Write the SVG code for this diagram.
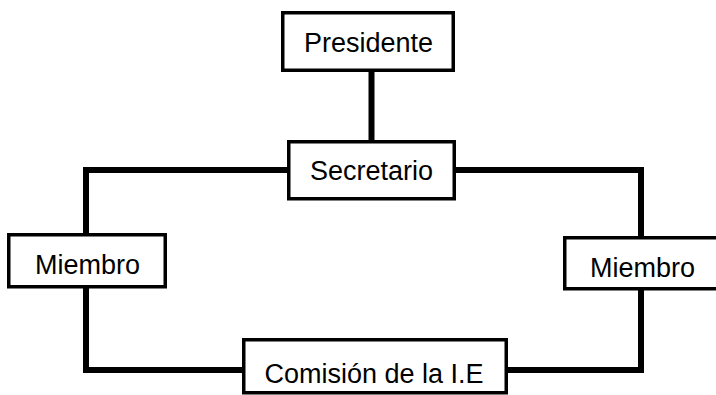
<svg xmlns="http://www.w3.org/2000/svg" width="716" height="395" viewBox="0 0 716 395">
<style>
.box{fill:#fff;stroke:#000;stroke-width:3.5}
.lbl{font-family:"Liberation Sans",Arial,sans-serif;font-size:27px;fill:#000;text-anchor:middle}
.con{fill:none;stroke:#000;stroke-width:6;stroke-linejoin:miter}
</style>
<rect width="716" height="395" fill="#fff"/>
<g id="connectors">
<line class="con" x1="371.5" y1="72" x2="371.5" y2="141"/>
<polyline class="con" points="288,170 86,170 86,234"/>
<polyline class="con" points="86,288 86,370 242,370"/>
<polyline class="con" points="456,170 641,170 641,237"/>
<polyline class="con" points="641,290 641,370 508,370"/>
</g>
<g id="presidente">
<rect class="box" x="282.75" y="12.75" width="170.5" height="57.5"/>
<text class="lbl" x="368.5" y="52">Presidente</text>
</g>
<g id="secretario">
<rect class="box" x="288.75" y="141.75" width="165.5" height="57"/>
<text class="lbl" x="371.5" y="180">Secretario</text>
</g>
<g id="miembro-izq">
<rect class="box" x="8.75" y="234.75" width="156.5" height="52"/>
<text class="lbl" x="87.5" y="274">Miembro</text>
</g>
<g id="miembro-der">
<rect class="box" x="564.75" y="237.75" width="170" height="51"/>
<text class="lbl" x="642.5" y="277">Miembro</text>
</g>
<g id="comision">
<rect class="box" x="243.75" y="339.75" width="262.5" height="53"/>
<text class="lbl" x="374" y="383">Comisión de la I.E</text>
</g>
</svg>
